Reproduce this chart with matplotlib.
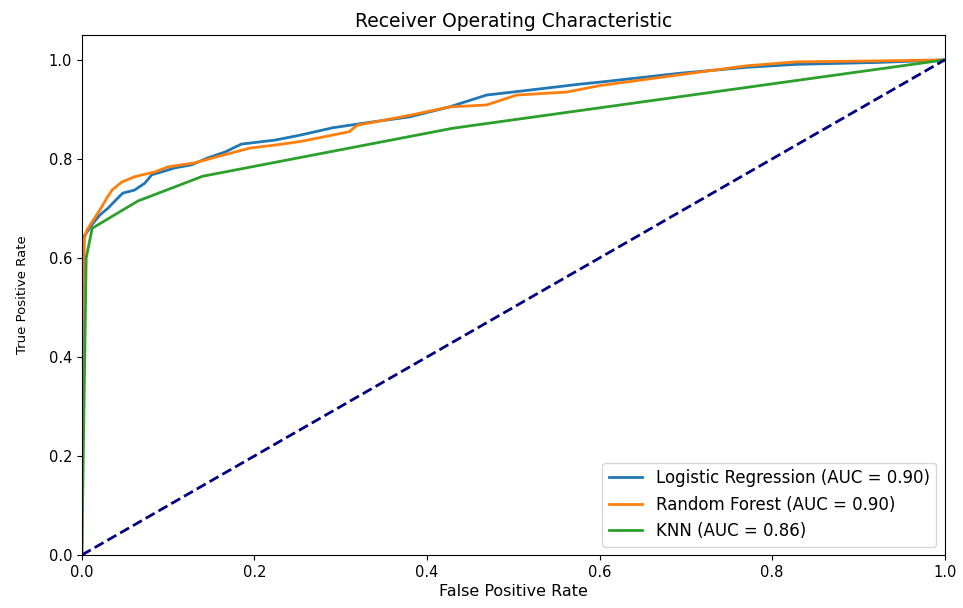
import matplotlib
matplotlib.use("Agg")
import matplotlib.pyplot as plt

# Logistic Regression ROC
lr_fpr = [0.0, 0.0, 0.0035, 0.012, 0.021, 0.030, 0.040, 0.0475, 0.061, 0.073, 0.081, 0.093,
          0.108, 0.127, 0.146, 0.166, 0.185, 0.224, 0.253, 0.291, 0.330, 0.380, 0.426, 0.469,
          0.519, 0.577, 0.600, 0.693, 0.770, 0.828, 0.925, 1.0]
lr_tpr = [0.0, 0.640, 0.646, 0.668, 0.687, 0.700, 0.718, 0.731, 0.737, 0.751, 0.768, 0.774,
          0.782, 0.788, 0.802, 0.814, 0.830, 0.838, 0.848, 0.863, 0.873, 0.885, 0.905, 0.929,
          0.939, 0.951, 0.955, 0.973, 0.985, 0.991, 0.995, 1.0]

# Random Forest ROC
rf_fpr = [0.0, 0.0, 0.003, 0.006, 0.015, 0.023, 0.029, 0.035, 0.046, 0.061, 0.085, 0.100,
          0.131, 0.160, 0.195, 0.224, 0.253, 0.310, 0.319, 0.380, 0.426, 0.469, 0.504, 0.562,
          0.600, 0.693, 0.770, 0.828, 0.925, 1.0]
rf_tpr = [0.0, 0.350, 0.640, 0.657, 0.681, 0.703, 0.721, 0.737, 0.753, 0.764, 0.774, 0.784,
          0.792, 0.806, 0.822, 0.828, 0.835, 0.855, 0.868, 0.888, 0.905, 0.909, 0.929, 0.935,
          0.948, 0.970, 0.988, 0.996, 0.998, 1.0]

# KNN ROC
knn_fpr = [0.0, 0.005, 0.012, 0.065, 0.14, 0.43, 1.0]
knn_tpr = [0.0, 0.60, 0.66, 0.715, 0.765, 0.862, 1.0]

labels = ["Logistic Regression (AUC = 0.90)", "Random Forest (AUC = 0.90)", "KNN (AUC = 0.86)"]

fig = plt.figure(figsize=(9.63, 6.08), dpi=100)
ax = fig.add_axes([0.085, 0.0872, 0.896, 0.855])

ax.plot(lr_fpr, lr_tpr, color="#1f77b4", lw=2, label=labels[0])
ax.plot(rf_fpr, rf_tpr, color="#ff7f0e", lw=2, label=labels[1])
ax.plot(knn_fpr, knn_tpr, color="#2ca02c", lw=2, label=labels[2])
ax.plot([0, 1], [0, 1], color="navy", lw=2, linestyle="--")

ax.set_xlim(0.0, 1.0)
ax.set_ylim(0.0, 1.05)
ax.set_xlabel("False Positive Rate", fontsize=11.5, labelpad=3)
ax.set_ylabel("True Positive Rate", fontsize=9.5, labelpad=14)
ax.set_title("Receiver Operating Characteristic", fontsize=13.5)
ax.tick_params(labelsize=10.5)
ax.legend(loc="lower right", fontsize=12)

fig.savefig("out.png", dpi=100)
